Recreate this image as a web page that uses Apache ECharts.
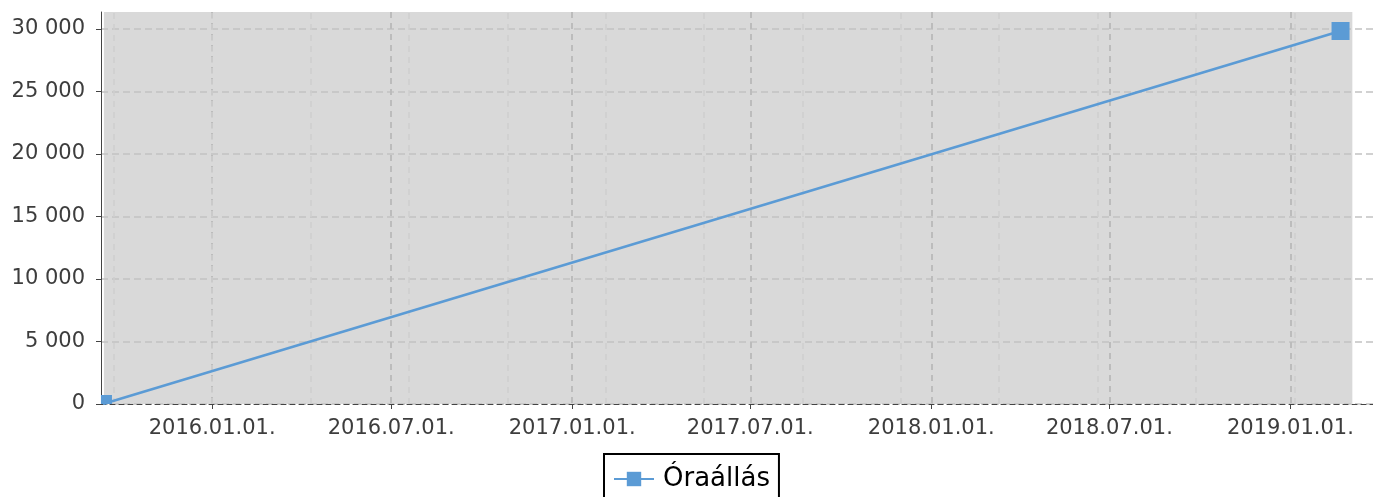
<!DOCTYPE html>
<html>
<head>
<meta charset="utf-8">
<script src="https://cdn.jsdelivr.net/npm/echarts@6/dist/echarts.min.js"></script>
<style>
html,body{margin:0;padding:0;background:#fff;}
#chart{width:1373px;height:497px;}
</style>
</head>
<body>
<div id="chart"></div>
<script>
// ---- data ----
var seriesName = 'Óraállás';
var pointDates = ['2015-09-12', '2019-02-21'];
var pointValues = [0, 29840];
var xMajorTicks = ['2016-01-01', '2016-07-01', '2017-01-01', '2017-07-01', '2018-01-01', '2018-07-01', '2019-01-01'];
var xMinorTicks = ['2015-09-23', '2016-01-01', '2016-04-10', '2016-07-19', '2016-10-27', '2017-02-04', '2017-05-15',
                   '2017-08-23', '2017-12-01', '2018-03-11', '2018-06-19', '2018-09-27', '2019-01-05'];
var yTicks = [0, 5000, 10000, 15000, 20000, 25000, 30000];
var xRange = ['2015-09-10', '2019-03-26'];
var plotBand = ['2015-09-13', '2019-03-05'];
var yMax = 31360;

// ---- helpers ----
function ts(s) { var p = s.split('-'); return new Date(+p[0], +p[1] - 1, +p[2]).getTime(); }
function pad(n) { return n < 10 ? '0' + n : '' + n; }
function fmtDate(v) { var d = new Date(v); return d.getFullYear() + '.' + pad(d.getMonth() + 1) + '.' + pad(d.getDate()) + '.'; }
function fmtNum(v) { return String(Math.round(v)).replace(/\B(?=(\d{3})+(?!\d))/g, ' '); }

var FONT = 'DejaVu Sans';
var TXT = '#3d3d3d';
var AX = '#444444';

var data = pointDates.map(function (d, i) {
  var item = { value: [ts(d), pointValues[i]] };
  if (i === 0) { item.symbolSize = [11, 9]; item.symbolOffset = [3.5, -4.5]; }
  return item;
});

var chart = echarts.init(document.getElementById('chart'), null, { renderer: 'canvas' });
chart.setOption({
  animation: false,
  backgroundColor: '#ffffff',
  grid: { left: 101, right: 0, top: 12, bottom: 93, containLabel: false },
  xAxis: {
    type: 'value',
    min: ts(xRange[0]),
    max: ts(xRange[1]),
    axisLine: { show: true, lineStyle: { color: AX, width: 1, type: [5, 4] } },
    axisTick: { show: true, length: 5, lineStyle: { color: AX, width: 1 }, customValues: xMajorTicks.map(ts) },
    axisLabel: { customValues: xMajorTicks.map(ts), formatter: fmtDate, color: TXT, fontFamily: FONT, fontSize: 21, margin: 14, hideOverlap: false },
    splitLine: { show: true, lineStyle: { color: '#bcbcbc', width: 2, type: [6, 5] } },
    z: 0
  },
  yAxis: {
    type: 'value',
    min: 0,
    max: yMax,
    axisLine: { show: true, lineStyle: { color: AX, width: 1 } },
    axisTick: { show: true, length: 5, lineStyle: { color: AX, width: 1 }, customValues: yTicks },
    axisLabel: { customValues: yTicks, formatter: fmtNum, color: TXT, fontFamily: FONT, fontSize: 21, margin: 16, padding: [3, 0, 0, 0] },
    splitLine: { show: true, lineStyle: { color: '#c2c2c2', width: 1.5, type: [7, 4] } }
  },
  legend: {
    show: true,
    left: 604,
    top: 454,
    orient: 'horizontal',
    padding: [12, 9, 12, 9],
    borderColor: '#000000',
    borderWidth: 2,
    borderRadius: 0,
    backgroundColor: '#ffffff',
    itemWidth: 40,
    itemHeight: 18,
    textStyle: { color: '#000000', fontFamily: FONT, fontSize: 26, padding: [0, 0, 0, 4] },
    data: [seriesName]
  },
  series: [{
    name: seriesName,
    type: 'line',
    data: data,
    symbol: 'rect',
    symbolSize: 18,
    showSymbol: true,
    clip: true,
    lineStyle: { color: '#5b9bd5', width: 2.5 },
    itemStyle: { color: '#5b9bd5' },
    z: 3,
    markArea: {
      silent: true,
      z: -1,
      itemStyle: { color: '#d9d9d9' },
      data: [[{ xAxis: ts(plotBand[0]) }, { xAxis: ts(plotBand[1]) }]]
    },
    markLine: {
      silent: true,
      z: 0,
      symbol: ['none', 'none'],
      label: { show: false },
      lineStyle: { color: '#cecece', width: 1.5, type: [6, 5] },
      data: xMinorTicks.map(function (d) { return { xAxis: ts(d) }; })
    }
  }]
});
</script>
</body>
</html>
